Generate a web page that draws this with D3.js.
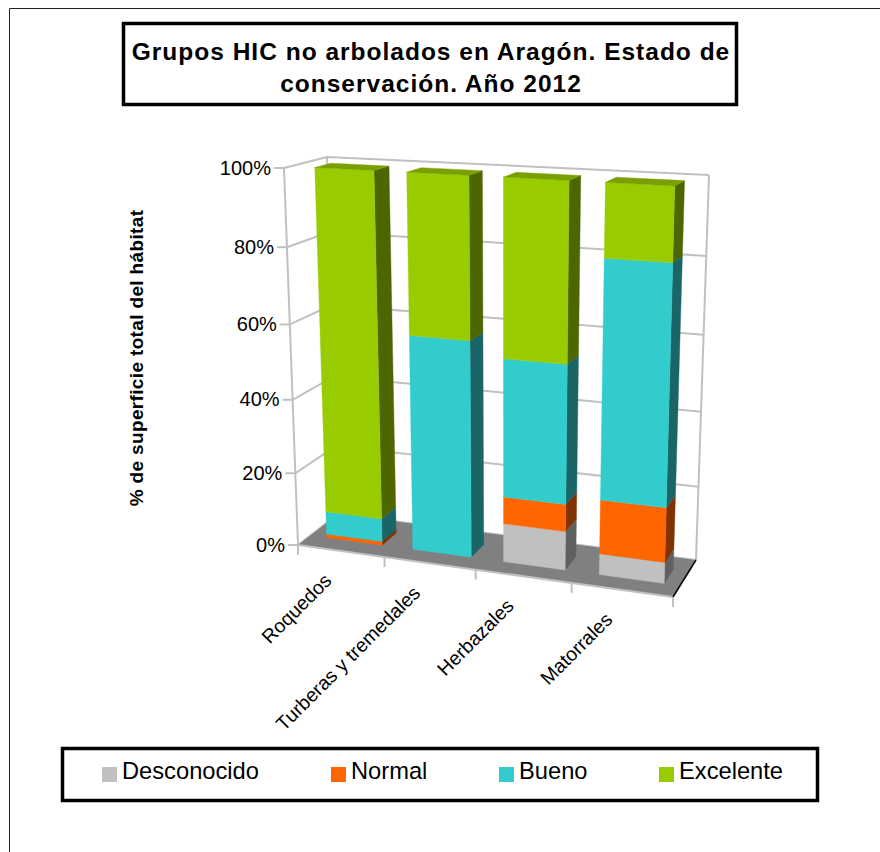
<!DOCTYPE html>
<html>
<head>
<meta charset="utf-8">
<script src="https://cdn.jsdelivr.net/npm/d3@7"></script>
<style>
html, body { margin: 0; padding: 0; background: #fff; }
text { font-family: "Liberation Sans", Arial, sans-serif; fill: #000; }
</style>
</head>
<body>
<div id="chart"></div>
<script>
const categories = ["Roquedos", "Turberas y tremedales", "Herbazales", "Matorrales"]
const seriesNames = ["Desconocido", "Normal", "Bueno", "Excelente"]
const desconocido = [0, 0, 10.4, 5.6]
const normal = [1, 0, 7.3, 14.4]
const bueno = [6.4, 58.2, 36.6, 61.6]
const excelente = [92.6, 41.8, 45.7, 18.4]
const yTicks = [0, 20, 40, 60, 80, 100]
const titleLines = ["Grupos HIC no arbolados en Aragón. Estado de", "conservación. Año 2012"]
const yTitle = "% de superficie total del hábitat"

const frontColors = ["#c0c0c0", "#ff6600", "#33cccc", "#99cc00"]
const sideColors = ["#606060", "#803300", "#1a6666", "#4d6600"]
const topColor = "#7a9f00"

const width = 880, height = 852

// corners of the 3d box on screen, [front, back] for each
const box = {
	bl: [[298, 545], [338, 514]],
	br: [[673, 597], [696, 560]],
	tl: [[284, 168], [327, 157]],
	tr: [[684, 189], [709, 175]]
}
const kx = 0.1, ky = 0.06

const lerp = (a, b, t) => a + (b - a) * t
const warp = (t, k) => t * (1 - k) / (1 - k * t)

function project(u, v, w) {
	let uu = warp(u, kx), vv = warp(v, ky)
	return [0, 1].map(function (i) {
		let bottom = lerp(lerp(box.bl[0][i], box.br[0][i], uu), lerp(box.bl[1][i], box.br[1][i], uu), w)
		let top = lerp(lerp(box.tl[0][i], box.tr[0][i], uu), lerp(box.tl[1][i], box.tr[1][i], uu), w)
		return lerp(bottom, top, vv)
	})
}

const xScale = d3.scaleBand().domain(categories).range([0.005, 1.005]).paddingInner(0.35).paddingOuter(0.175)
const xStep = 1 / categories.length
const yScale = d3.scaleLinear().domain([0, 100]).range([0, 0.995])
const wallScale = d3.scaleLinear().domain([0, 100]).range([0, 1])
const depth = [0.31, 0.69]

const table = categories.map(function (c, i) {
	return { cat: c, Desconocido: desconocido[i], Normal: normal[i], Bueno: bueno[i], Excelente: excelente[i] }
})
const stacked = d3.stack().keys(seriesNames)(table)

const line = d3.line()
const poly = pts => line(pts) + "Z"

const svg = d3.select("#chart").append("svg")
	.attr("width", width)
	.attr("height", height)
	.style("display", "block")

// outer frame
svg.append("path").attr("d", "M9.5,852V8.5H880").attr("fill", "none").attr("stroke", "#222").attr("stroke-width", 1)

// title
svg.append("rect").attr("x", 123.5).attr("y", 23.5).attr("width", 613).attr("height", 81)
	.attr("fill", "#fff").attr("stroke", "#000").attr("stroke-width", 3.5)
svg.selectAll(".title").data(titleLines).enter().append("text")
	.attr("class", "title")
	.attr("x", 431).attr("y", (d, i) => 60 + i * 32)
	.attr("text-anchor", "middle")
	.attr("font-size", 24.5).attr("font-weight", "bold").attr("letter-spacing", 1)
	.text(d => d)

// y title
svg.append("text")
	.attr("transform", "translate(143,358) rotate(-90)")
	.attr("text-anchor", "middle")
	.attr("font-size", 19).attr("font-weight", "bold").attr("letter-spacing", 0.35)
	.text(yTitle)

// walls
const grid = svg.append("g").attr("fill", "none").attr("stroke", "#c0c0c0").attr("stroke-width", 2)
grid.selectAll(".grid").data(yTicks).enter().append("path")
	.attr("class", "grid")
	.attr("d", function (d) {
		let v = wallScale(d)
		return line([project(0, v, 0), project(0, v, 1), project(1, v, 1)])
	})
grid.append("path").attr("d", line([project(0, 0, 0), project(0, 1, 0)]))
grid.append("path").attr("d", line([project(0, 0, 1), project(0, 1, 1)]))
grid.append("path").attr("d", line([project(1, 0, 1), project(1, 1, 1)]))
grid.selectAll(".ytick").data(yTicks).enter().append("path")
	.attr("class", "ytick")
	.attr("d", function (d) {
		let p = project(0, wallScale(d), 0)
		return line([p, [p[0] - 10, p[1]]])
	})

// floor
svg.append("path")
	.attr("d", poly([project(0, 0, 0), project(1, 0, 0), project(1, 0, 1), project(0, 0, 1)]))
	.attr("fill", "#808080")
svg.append("path").attr("d", line([project(0, 0, 0), project(1, 0, 0)]))
	.attr("fill", "none").attr("stroke", "#c0c0c0").attr("stroke-width", 2)
svg.append("path").attr("d", line([project(1, 0, 0), project(1, 0, 1)]))
	.attr("fill", "none").attr("stroke", "#000").attr("stroke-width", 1.5)
svg.selectAll(".xtick").data(d3.range(categories.length + 1)).enter().append("path")
	.attr("class", "xtick")
	.attr("d", function (i) {
		let p = project(i * xStep, 0, 0)
		return line([p, [p[0], p[1] + 10]])
	})
	.attr("fill", "none").attr("stroke", "#c0c0c0").attr("stroke-width", 2)

// y labels
svg.selectAll(".ylabel").data(yTicks).enter().append("text")
	.attr("class", "ylabel")
	.attr("x", d => project(0, wallScale(d), 0)[0] - 13)
	.attr("y", d => project(0, wallScale(d), 0)[1] + 6.5)
	.attr("text-anchor", "end")
	.attr("font-size", 20)
	.text(d => d + "%")

// x labels
svg.selectAll(".xlabel").data(categories).enter().append("text")
	.attr("class", "xlabel")
	.attr("transform", function (c, i) {
		let p = project((i + 0.5) * xStep, 0, 0)
		return "translate(" + (p[0] - 8) + "," + (p[1] + 31) + ") rotate(-45)"
	})
	.attr("text-anchor", "end")
	.attr("font-size", 19.5)
	.text(d => d)

// bars, left to right and bottom to top
const bars = svg.append("g")
categories.forEach(function (c, i) {
	let u0 = xScale(c), u1 = u0 + xScale.bandwidth()
	let g = bars.append("g")
	stacked.forEach(function (s, j) {
		let v0 = yScale(s[i][0]), v1 = yScale(s[i][1])
		if (v1 - v0 <= 0) return
		g.append("path")
			.attr("d", poly([project(u1, v0, depth[0]), project(u1, v0, depth[1]), project(u1, v1, depth[1]), project(u1, v1, depth[0])]))
			.attr("fill", sideColors[j]).attr("stroke", sideColors[j]).attr("stroke-width", 0.4)
		g.append("path")
			.attr("d", poly([project(u0, v0, depth[0]), project(u1, v0, depth[0]), project(u1, v1, depth[0]), project(u0, v1, depth[0])]))
			.attr("fill", frontColors[j]).attr("stroke", frontColors[j]).attr("stroke-width", 0.4)
		if (j == stacked.length - 1) {
			g.append("path")
				.attr("d", poly([project(u0, v1, depth[0]), project(u1, v1, depth[0]), project(u1, v1, depth[1]), project(u0, v1, depth[1])]))
				.attr("fill", topColor).attr("stroke", topColor).attr("stroke-width", 0.4)
		}
	})
})

// legend
const legendX = [102, 331, 499, 659]
svg.append("rect").attr("x", 62.5).attr("y", 748.5).attr("width", 755).attr("height", 52)
	.attr("fill", "#fff").attr("stroke", "#000").attr("stroke-width", 3.5)
const legend = svg.selectAll(".legend").data(seriesNames).enter().append("g")
	.attr("class", "legend")
	.attr("transform", (d, i) => "translate(" + legendX[i] + ",767)")
legend.append("rect").attr("width", 15).attr("height", 15).attr("fill", (d, i) => frontColors[i])
legend.append("text").attr("x", 20).attr("y", 12).attr("font-size", 23.7).text(d => d)
</script>
</body>
</html>
